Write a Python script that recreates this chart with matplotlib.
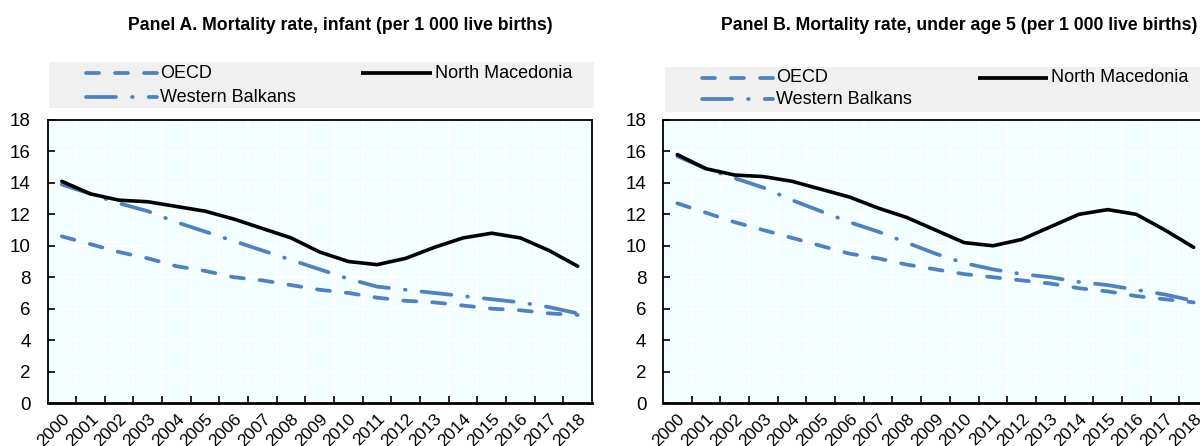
import matplotlib
matplotlib.use("Agg")
import matplotlib.pyplot as plt
from matplotlib.lines import Line2D
from matplotlib.patches import Rectangle
import numpy as np

plt.rcParams['font.family'] = ['Liberation Sans', 'DejaVu Sans']
plt.rcParams['lines.scale_dashes'] = False

years = [str(y) for y in range(2000, 2019)]

# Panel A: infant mortality (per 1 000 live births)
infant_oecd = [10.6, 10.1, 9.6, 9.2, 8.7, 8.4, 8.0, 7.8, 7.5, 7.2,
               7.0, 6.7, 6.5, 6.4, 6.2, 6.0, 5.9, 5.7, 5.6]
infant_wb = [13.9, 13.3, 12.7, 12.2, 11.5, 10.9, 10.3, 9.7, 9.1, 8.5,
             7.9, 7.4, 7.2, 7.0, 6.8, 6.6, 6.4, 6.1, 5.7]
infant_mkd = [14.1, 13.3, 12.9, 12.8, 12.5, 12.2, 11.7, 11.1, 10.5, 9.6,
              9.0, 8.8, 9.2, 9.9, 10.5, 10.8, 10.5, 9.7, 8.7]

# Panel B: under-5 mortality (per 1 000 live births)
u5_oecd = [12.7, 12.1, 11.5, 11.0, 10.5, 10.0, 9.5, 9.2, 8.8, 8.5,
           8.2, 8.0, 7.8, 7.6, 7.3, 7.1, 6.8, 6.6, 6.4]
u5_wb = [15.7, 14.9, 14.3, 13.7, 12.9, 12.2, 11.5, 10.9, 10.2, 9.5,
         8.9, 8.5, 8.2, 8.0, 7.7, 7.5, 7.2, 6.9, 6.5]
u5_mkd = [15.8, 14.9, 14.5, 14.4, 14.1, 13.6, 13.1, 12.4, 11.8, 11.0,
          10.2, 10.0, 10.4, 11.2, 12.0, 12.3, 12.0, 11.0, 9.9]

titles = ["Panel A. Mortality rate, infant (per 1 000 live births)",
          "Panel B. Mortality rate, under age 5 (per 1 000 live births)"]
series_names = ["OECD", "Western Balkans", "North Macedonia"]

BLUE = "#4F81BD"
AX_BG = "#F2FEFF"
LEG_BG = "#F0F0F0"
PX = 0.72  # points per pixel at 100 dpi
DASH_OECD = (0, (13 * PX, 16 * PX))
DASH_WB = (0, (30 * PX, 16 * PX, 0.5, 16 * PX))

W, H = 1200, 446
fig = plt.figure(figsize=(W / 100, H / 100), dpi=100)


def fx(px):
    return px / W


def fy(py):
    return 1 - py / H


def draw_panel(left, right, top, bottom, oecd, wb, mkd):
    ax = fig.add_axes([fx(left), fy(bottom), fx(right - left), (bottom - top) / H])
    ax.set_facecolor(AX_BG)
    x = np.arange(len(years))
    ax.plot(x, oecd, color=BLUE, lw=2.7, linestyle=DASH_OECD,
            dash_capstyle='round', zorder=3)
    ax.plot(x, wb, color=BLUE, lw=2.7, linestyle=DASH_WB,
            dash_capstyle='round', zorder=3)
    ax.plot(x, mkd, color="black", lw=2.6, solid_capstyle='round', zorder=4)
    ax.set_xlim(-0.5, len(years) - 0.5)
    ax.set_ylim(0, 18)
    ax.set_yticks(np.arange(0, 19, 2))
    ax.set_xticks(np.arange(0.5, len(years) - 0.5, 1))
    ax.set_xticklabels([])
    ax.set_xticks(x, minor=True)
    ax.set_xticklabels(years, minor=True, rotation=45, ha='right',
                       rotation_mode='anchor', fontsize=12.5)
    ax.tick_params(axis='x', which='major', direction='in', length=5,
                   width=1.2, color='black')
    ax.tick_params(axis='x', which='minor', length=0, pad=6)
    ax.tick_params(axis='y', direction='in', length=5, width=1.2,
                   labelsize=13.5, pad=12)
    ax.grid(True, which='major', color='white', lw=1.5, zorder=0)
    ax.set_axisbelow(True)
    for s in ax.spines.values():
        s.set_color('black')
        s.set_linewidth(1.3)
    ax.spines['bottom'].set_linewidth(2)
    return ax


def draw_legend(left, right, top, bottom, row1, row2, h1, h2):
    fig.add_artist(Rectangle((fx(left), fy(bottom)), fx(right - left),
                             (bottom - top) / H, transform=fig.transFigure,
                             facecolor=LEG_BG, edgecolor='none', zorder=0))
    handles = [(h1, row1, DASH_OECD, BLUE, series_names[0]),
               (h1, row2, DASH_WB, BLUE, series_names[1]),
               (h2, row1, '-', 'black', series_names[2])]
    for hx, hy, ls, col, name in handles:
        ln = Line2D([fx(hx[0]), fx(hx[1])], [fy(hy), fy(hy)],
                    transform=fig.transFigure, color=col, lw=2.7,
                    linestyle=ls, dash_capstyle='round',
                    solid_capstyle='butt')
        fig.add_artist(ln)
        fig.text(fx(hx[1] + 3), fy(hy), name, fontsize=13,
                 va='center', ha='left')


# Panel A
draw_panel(47.5, 592, 120, 403, infant_oecd, infant_wb, infant_mkd)
draw_legend(49, 594, 62, 108, 73, 97, (86, 157), (361, 432))
fig.text(fx(340), fy(25), titles[0], fontsize=12.7, fontweight='bold',
         ha='center', va='center')

# Panel B
draw_panel(663, 1208, 120, 403, u5_oecd, u5_wb, u5_mkd)
draw_legend(665, 1215, 67, 112, 78, 99, (702, 773), (978, 1048))
fig.text(fx(959), fy(25), titles[1], fontsize=12.7, fontweight='bold',
         ha='center', va='center')

fig.savefig("out.png", dpi=100)
